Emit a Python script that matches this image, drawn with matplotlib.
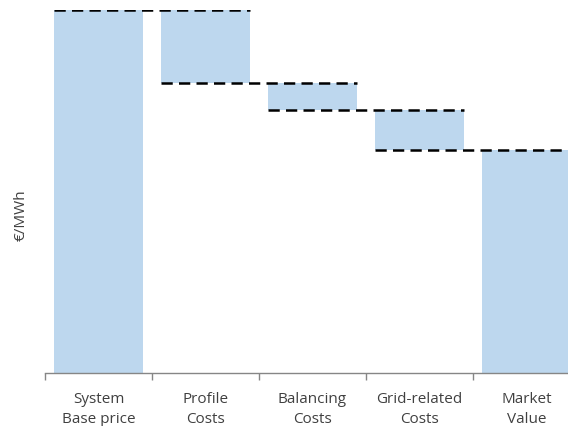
import matplotlib.pyplot as plt
import numpy as np

categories = ["System\nBase price", "Profile\nCosts", "Balancing\nCosts", "Grid-related\nCosts", "Market\nValue"]
base_price = 100.0
cost_steps = [20.0, 7.5, 11.0]
market_value = base_price - sum(cost_steps)

plt.rcParams['font.family'] = ['Open Sans', 'DejaVu Sans']

fig = plt.figure(figsize=(5.68, 4.27), dpi=100)
W, H = 568, 427
ax_left, ax_right = 45, 580
ax_top, ax_bottom = 11, 373.5
ax = fig.add_axes([ax_left / W, (H - ax_bottom) / H, (ax_right - ax_left) / W, (ax_bottom - ax_top) / H])

color = '#BDD7EE'
width = 0.83
x = np.arange(len(categories))

levels = [base_price]
for c in cost_steps:
    levels.append(levels[-1] - c)
bottoms = [0] + levels[1:] + [0]
heights = [base_price] + cost_steps + [market_value]

ax.bar(x, heights, bottom=bottoms, width=width, color=color, edgecolor='none', zorder=1)

for i, lvl in enumerate(levels):
    ax.plot([x[i] - width / 2, x[i + 1] + width / 2], [lvl, lvl], color='black',
            linestyle=(0, (4.5, 2.5)), linewidth=1.8, zorder=3, dash_capstyle='butt')

ax.set_xlim(-0.5, len(categories) - 0.5)
ax.set_ylim(0, base_price)

for s in ['top', 'right', 'left']:
    ax.spines[s].set_visible(False)
ax.spines['bottom'].set_color('#868686')
ax.spines['bottom'].set_linewidth(1.0)

ax.set_yticks([])
ax.set_xticks(np.arange(-0.5, len(categories), 1.0), minor=False)
ax.set_xticklabels([])
ax.tick_params(axis='x', which='major', length=5, color='#868686', width=1.0)
ax.set_xticks(x, minor=True)
ax.set_xticklabels(categories, minor=True, fontsize=11, color='#404040', linespacing=1.45)
ax.tick_params(axis='x', which='minor', length=0, pad=13)

fig.text(21 / W, 1 - 215 / H, '€/MWh', rotation=90, ha='center', va='center', fontsize=11, color='#404040')

fig.savefig('out.png', dpi=100)
